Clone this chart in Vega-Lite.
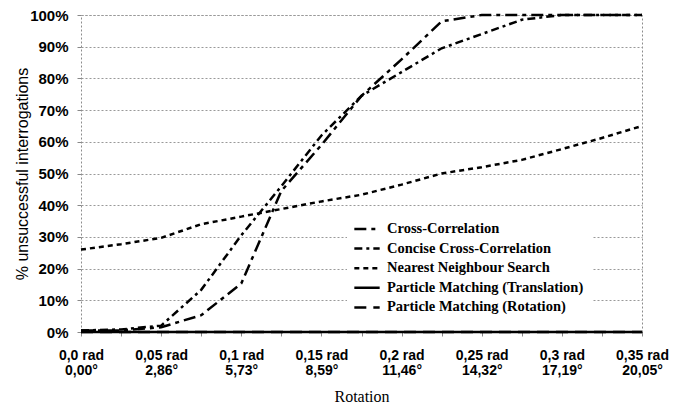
{
  "$schema": "https://vega.github.io/schema/vega-lite/v6.json",
  "width": 561,
  "height": 317,
  "autosize": {"type": "none"},
  "padding": {"left": 81, "top": 15, "right": 33, "bottom": 74},
  "background": "white",
  "config": {
    "view": {"stroke": "#8c8c8c", "strokeDash": [2, 2], "strokeWidth": 1}
  },
  "data": {
    "values": [
      {"s": "Cross-Correlation", "r": 0, "p": 0.5},
      {"s": "Cross-Correlation", "r": 0.025, "p": 0.5},
      {"s": "Cross-Correlation", "r": 0.05, "p": 1.5},
      {"s": "Cross-Correlation", "r": 0.075, "p": 5.3},
      {"s": "Cross-Correlation", "r": 0.1, "p": 15.3},
      {"s": "Cross-Correlation", "r": 0.125, "p": 44.5},
      {"s": "Cross-Correlation", "r": 0.15, "p": 59},
      {"s": "Cross-Correlation", "r": 0.175, "p": 74.5},
      {"s": "Cross-Correlation", "r": 0.2, "p": 86},
      {"s": "Cross-Correlation", "r": 0.225, "p": 98},
      {"s": "Cross-Correlation", "r": 0.25, "p": 100},
      {"s": "Cross-Correlation", "r": 0.275, "p": 100},
      {"s": "Cross-Correlation", "r": 0.3, "p": 100},
      {"s": "Cross-Correlation", "r": 0.325, "p": 100},
      {"s": "Cross-Correlation", "r": 0.35, "p": 100},
      {"s": "Concise Cross-Correlation", "r": 0, "p": 0.5},
      {"s": "Concise Cross-Correlation", "r": 0.025, "p": 0.8},
      {"s": "Concise Cross-Correlation", "r": 0.05, "p": 2},
      {"s": "Concise Cross-Correlation", "r": 0.075, "p": 13.3},
      {"s": "Concise Cross-Correlation", "r": 0.1, "p": 30.5},
      {"s": "Concise Cross-Correlation", "r": 0.125, "p": 46},
      {"s": "Concise Cross-Correlation", "r": 0.15, "p": 62},
      {"s": "Concise Cross-Correlation", "r": 0.175, "p": 74.5},
      {"s": "Concise Cross-Correlation", "r": 0.2, "p": 82},
      {"s": "Concise Cross-Correlation", "r": 0.225, "p": 89.5},
      {"s": "Concise Cross-Correlation", "r": 0.25, "p": 94},
      {"s": "Concise Cross-Correlation", "r": 0.275, "p": 98.5},
      {"s": "Concise Cross-Correlation", "r": 0.3, "p": 100},
      {"s": "Concise Cross-Correlation", "r": 0.325, "p": 100},
      {"s": "Concise Cross-Correlation", "r": 0.35, "p": 100},
      {"s": "Nearest Neighbour Search", "r": 0, "p": 26},
      {"s": "Nearest Neighbour Search", "r": 0.025, "p": 27.7},
      {"s": "Nearest Neighbour Search", "r": 0.05, "p": 29.7},
      {"s": "Nearest Neighbour Search", "r": 0.075, "p": 34},
      {"s": "Nearest Neighbour Search", "r": 0.1, "p": 36.4},
      {"s": "Nearest Neighbour Search", "r": 0.125, "p": 38.8},
      {"s": "Nearest Neighbour Search", "r": 0.15, "p": 41.2},
      {"s": "Nearest Neighbour Search", "r": 0.175, "p": 43.3},
      {"s": "Nearest Neighbour Search", "r": 0.2, "p": 46.5},
      {"s": "Nearest Neighbour Search", "r": 0.225, "p": 50},
      {"s": "Nearest Neighbour Search", "r": 0.25, "p": 52},
      {"s": "Nearest Neighbour Search", "r": 0.275, "p": 54.3},
      {"s": "Nearest Neighbour Search", "r": 0.3, "p": 57.7},
      {"s": "Nearest Neighbour Search", "r": 0.325, "p": 61.2},
      {"s": "Nearest Neighbour Search", "r": 0.35, "p": 65},
      {"s": "Particle Matching (Translation)", "r": 0, "p": 0},
      {"s": "Particle Matching (Translation)", "r": 0.025, "p": 0},
      {"s": "Particle Matching (Translation)", "r": 0.05, "p": 0},
      {"s": "Particle Matching (Translation)", "r": 0.075, "p": 0},
      {"s": "Particle Matching (Translation)", "r": 0.1, "p": 0},
      {"s": "Particle Matching (Translation)", "r": 0.125, "p": 0},
      {"s": "Particle Matching (Translation)", "r": 0.15, "p": 0},
      {"s": "Particle Matching (Translation)", "r": 0.175, "p": 0},
      {"s": "Particle Matching (Translation)", "r": 0.2, "p": 0},
      {"s": "Particle Matching (Translation)", "r": 0.225, "p": 0},
      {"s": "Particle Matching (Translation)", "r": 0.25, "p": 0},
      {"s": "Particle Matching (Translation)", "r": 0.275, "p": 0},
      {"s": "Particle Matching (Translation)", "r": 0.3, "p": 0},
      {"s": "Particle Matching (Translation)", "r": 0.325, "p": 0},
      {"s": "Particle Matching (Translation)", "r": 0.35, "p": 0},
      {"s": "Particle Matching (Rotation)", "r": 0, "p": 0},
      {"s": "Particle Matching (Rotation)", "r": 0.025, "p": 0},
      {"s": "Particle Matching (Rotation)", "r": 0.05, "p": 0},
      {"s": "Particle Matching (Rotation)", "r": 0.075, "p": 0},
      {"s": "Particle Matching (Rotation)", "r": 0.1, "p": 0},
      {"s": "Particle Matching (Rotation)", "r": 0.125, "p": 0},
      {"s": "Particle Matching (Rotation)", "r": 0.15, "p": 0},
      {"s": "Particle Matching (Rotation)", "r": 0.175, "p": 0},
      {"s": "Particle Matching (Rotation)", "r": 0.2, "p": 0},
      {"s": "Particle Matching (Rotation)", "r": 0.225, "p": 0},
      {"s": "Particle Matching (Rotation)", "r": 0.25, "p": 0},
      {"s": "Particle Matching (Rotation)", "r": 0.275, "p": 0},
      {"s": "Particle Matching (Rotation)", "r": 0.3, "p": 0},
      {"s": "Particle Matching (Rotation)", "r": 0.325, "p": 0},
      {"s": "Particle Matching (Rotation)", "r": 0.35, "p": 0}
    ]
  },
  "mark": {"type": "line", "color": "black", "strokeWidth": 2.5},
  "encoding": {
    "x": {
      "field": "r",
      "type": "quantitative",
      "scale": {"domain": [0, 0.35], "nice": false},
      "axis": {
        "values": [0, 0.025, 0.05, 0.075, 0.1, 0.125, 0.15, 0.175, 0.2, 0.225, 0.25, 0.275, 0.3, 0.325, 0.35],
        "labelExpr": "round(datum.value*1000) % 50 == 0 ? [datum.value == 0 ? '0,0 rad' : replace(format(datum.value, '.2~f'), '.', ',') + ' rad', replace(format(datum.value*180/PI, '.2f'), '.', ',') + '°'] : ''",
        "labelFlush": false,
        "labelOverlap": false,
        "labelFont": "Liberation Sans",
        "labelFontWeight": "bold",
        "labelFontSize": 14,
        "labelLineHeight": 15,
        "labelColor": "black",
        "labelPadding": 12,
        "tickSize": 4,
        "tickColor": "#888888",
        "domainColor": "black",
        "domainWidth": 1,
        "grid": false,
        "title": "Rotation",
        "titleFont": "Liberation Serif",
        "titleFontSize": 16,
        "titleFontWeight": "normal",
        "titleColor": "black",
        "titleBaseline": "middle",
        "titleY": 64
      }
    },
    "y": {
      "field": "p",
      "type": "quantitative",
      "scale": {"domain": [0, 100], "nice": false},
      "axis": {
        "values": [0, 10, 20, 30, 40, 50, 60, 70, 80, 90, 100],
        "labelExpr": "datum.value + '%'",
        "labelFont": "Liberation Sans",
        "labelFontWeight": "bold",
        "labelFontSize": 15,
        "labelColor": "black",
        "labelPadding": 9,
        "tickSize": 4,
        "tickColor": "#888888",
        "domain": false,
        "grid": true,
        "gridColor": "#999999",
        "gridDash": [2, 2],
        "gridWidth": 1,
        "title": "% unsuccessful interrogations",
        "titleFont": "Liberation Sans",
        "titleFontSize": 16,
        "titleFontWeight": "normal",
        "titleColor": "black",
        "titleBaseline": "middle",
        "titleX": -59,
        "titleY": 158.5
      }
    },
    "strokeDash": {
      "field": "s",
      "type": "nominal",
      "scale": {
        "domain": ["Cross-Correlation", "Concise Cross-Correlation", "Nearest Neighbour Search", "Particle Matching (Translation)", "Particle Matching (Rotation)"],
        "range": [[12, 5, 4, 5], [8, 4, 3, 4], [5, 4], [1, 0], [12, 7]]
      },
      "legend": {
        "orient": "none",
        "legendX": 266,
        "legendY": 194,
        "padding": 9,
        "fillColor": "white",
        "title": null,
        "labelFont": "Liberation Serif",
        "labelFontWeight": "bold",
        "labelFontSize": 14.5,
        "labelColor": "black",
        "labelLimit": 0,
        "symbolType": "M-1.3,0H1.3",
        "symbolSize": 380,
        "symbolStrokeWidth": 2.5,
        "symbolStrokeColor": "black",
        "labelOffset": 9,
        "rowPadding": 1.6
      }
    }
  }
}
